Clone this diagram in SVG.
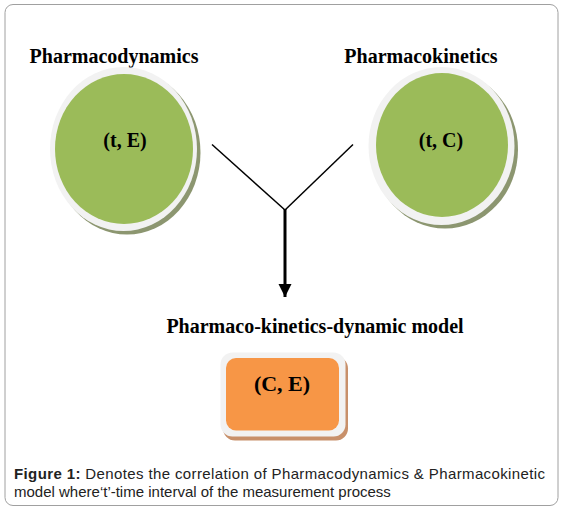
<svg xmlns="http://www.w3.org/2000/svg" width="564" height="511" viewBox="0 0 564 511">
<defs>
<marker id="ah" viewBox="0 0 10 10" refX="10" refY="5" markerWidth="4.5" markerHeight="4.5" orient="auto" markerUnits="strokeWidth">
<path d="M0,0 L10,5 L0,10 Z" fill="#000"/>
</marker>
</defs>
<style>
.lbl{font-family:"Liberation Serif",serif;font-weight:bold;fill:#000;text-anchor:middle}
.ring{fill:#f2f2f2}
.gr{fill:#9bbb59}
.gsh{fill:#8c9670}
.cap{font-family:"Liberation Sans",Arial,sans-serif;font-size:15px;fill:#222}
</style>
<rect x="5" y="4.5" width="553" height="501" rx="8" fill="#fff" stroke="#a0a0a0" stroke-width="1"/>
<text class="lbl" x="114" y="63" font-size="20">Pharmacodynamics</text>
<text class="lbl" x="421" y="63" font-size="20">Pharmacokinetics</text>
<text class="lbl" x="315" y="333" font-size="20">Pharmaco-kinetics-dynamic model</text>
<g id="node-pd">
<ellipse class="gsh" cx="127" cy="152.5" rx="73.5" ry="82"/>
<ellipse class="ring" cx="123.5" cy="149" rx="73.5" ry="82"/>
<ellipse class="gr" cx="124" cy="149" rx="69" ry="75"/>
<text class="lbl" x="125" y="147" font-size="20">(t, E)</text>
</g>
<g id="node-pk">
<ellipse class="gsh" cx="445" cy="149.5" rx="73" ry="79"/>
<ellipse class="ring" cx="441.5" cy="146" rx="73" ry="79"/>
<ellipse class="gr" cx="442" cy="145" rx="66" ry="72"/>
<text class="lbl" x="441" y="147" font-size="20">(t, C)</text>
</g>
<g id="node-pkd">
<rect x="223" y="356.5" width="125" height="84" rx="12" fill="#c8906a"/>
<rect x="220.5" y="352.5" width="125" height="84" rx="12" fill="#f2f2f2"/>
<rect x="226" y="358" width="113" height="72.5" rx="10" fill="#f79646"/>
<text class="lbl" x="282" y="391" font-size="22">(C, E)</text>
</g>
<g id="connectors" stroke="#000" fill="none">
<line x1="212" y1="144.5" x2="285" y2="210" stroke-width="1.5"/>
<line x1="353" y1="144.5" x2="285" y2="210" stroke-width="1.5"/>
<line x1="285" y1="209" x2="285" y2="297" stroke-width="3" marker-end="url(#ah)"/>
</g>
<text class="cap" x="14" y="479" textLength="531" lengthAdjust="spacing"><tspan font-weight="bold">Figure 1:</tspan> Denotes the correlation of Pharmacodynamics &amp; Pharmacokinetic</text>
<text class="cap" x="14" y="497">model where‘t’-time interval of the measurement process</text>
</svg>
